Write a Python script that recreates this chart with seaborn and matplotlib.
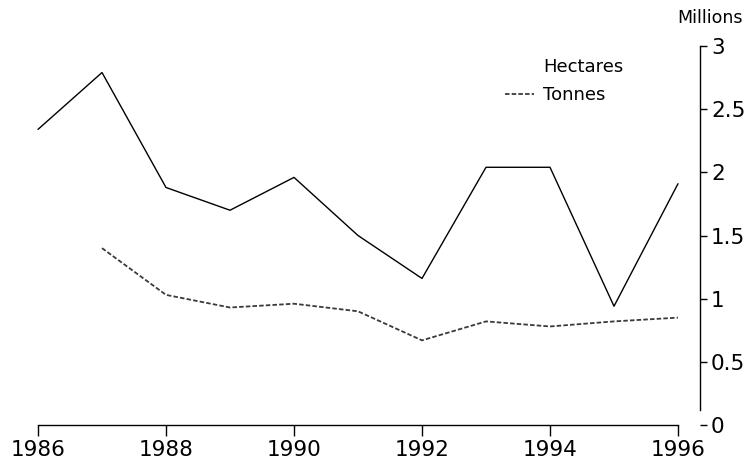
import matplotlib
matplotlib.use("Agg")
import matplotlib.pyplot as plt
import seaborn as sns
import pandas as pd
from matplotlib.lines import Line2D

sns.set_theme(style="white")
plt.rcParams['font.family'] = ['DejaVu Sans']
plt.rcParams['text.color'] = 'black'
plt.rcParams['xtick.color'] = 'black'
plt.rcParams['ytick.color'] = 'black'

years_hectares = [1986, 1987, 1988, 1989, 1990, 1991, 1992, 1993, 1994, 1995, 1996]
hectares = [2.34, 2.79, 1.88, 1.70, 1.96, 1.50, 1.16, 2.04, 2.04, 0.94, 1.91]
years_tonnes = [1987, 1988, 1989, 1990, 1991, 1992, 1993, 1994, 1995, 1996]
tonnes = [1.40, 1.03, 0.93, 0.96, 0.90, 0.67, 0.82, 0.78, 0.82, 0.85]
x_ticks = [1986, 1988, 1990, 1992, 1994, 1996]
y_ticks = [0, 0.5, 1, 1.5, 2, 2.5, 3]
y_tick_labels = ["0", "0.5", "1", "1.5", "2", "2.5", "3"]

df_h = pd.DataFrame({"year": years_hectares, "value": hectares})
df_t = pd.DataFrame({"year": years_tonnes, "value": tonnes})

fig = plt.figure(figsize=(7.5, 4.65), dpi=100)
ax = fig.add_axes([38/750, 40/465, (700-38)/750, (425-46)/465])

sns.lineplot(data=df_h, x="year", y="value", ax=ax, color="black", lw=1.0, clip_on=False)
sns.lineplot(data=df_t, x="year", y="value", ax=ax, color="#3a3a3a", lw=1.3,
             linestyle=(0, (2.5, 1.2)), clip_on=False)

ax.set_xlim(1986, 1996 + 22/64)
ax.set_ylim(0, 3)
ax.set_xlabel("")
ax.set_ylabel("")

for s in ["top", "left"]:
    ax.spines[s].set_visible(False)
ax.spines["bottom"].set_bounds(1986, 1996)
ax.spines["right"].set_bounds(0.12, 3)
for s in ["bottom", "right"]:
    ax.spines[s].set_color("black")
    ax.spines[s].set_linewidth(1.0)

ax.yaxis.tick_right()
ax.set_xticks(x_ticks)
ax.set_xticklabels([str(y) for y in x_ticks])
ax.set_yticks(y_ticks)
ax.set_yticklabels(y_tick_labels)
ax.tick_params(axis="x", direction="out", length=8, width=1, colors="black",
               labelsize=15.5, pad=3, bottom=True)
ax.tick_params(axis="y", direction="out", length=5, width=1, colors="black",
               labelsize=15.5, pad=3, right=True, left=False)
ax.grid(False)

fig.text(710/750, 1 - 18/465, "Millions", ha="center", va="center", fontsize=12.5,
         color="black")

handles = [Line2D([], [], color="black", lw=1.0, alpha=0.0),
           Line2D([], [], color="#3a3a3a", lw=1.3, linestyle=(0, (2.5, 1.2)))]
leg = fig.legend(handles, ["Hectares", "Tonnes"], loc="upper left",
                 bbox_to_anchor=(505/750, 1 - 58/465), frameon=False, fontsize=13,
                 handlelength=1.6, handletextpad=0.5, borderpad=0, borderaxespad=0,
                 labelspacing=0.55)
for t in leg.get_texts():
    t.set_color("black")

fig.savefig("out.png", dpi=100, facecolor="white")
